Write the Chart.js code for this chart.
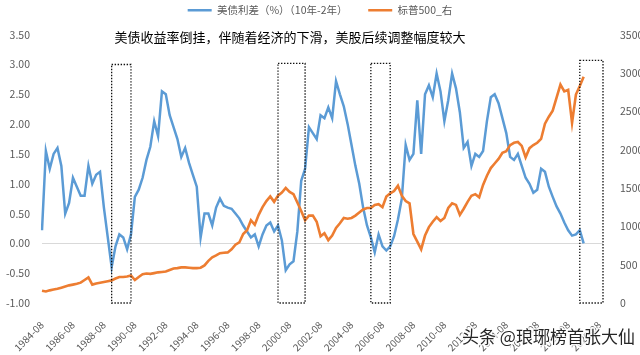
<!DOCTYPE html>
<html>
<head>
<meta charset="utf-8">
<script src="https://cdn.jsdelivr.net/npm/chart.js@4.4.1/dist/chart.umd.min.js"></script>
<style>
  html, body { margin: 0; padding: 0; background: #fff; }
  #wrap { position: relative; width: 640px; height: 355px; }
</style>
</head>
<body>
<div id="wrap"><canvas id="c" width="640" height="355"></canvas></div>
<script>
// === Kategori (kuartalan, 1984-08 s/d 2020-11) ===
const years = [];
for (let yr = 1984; yr <= 2020; yr++) years.push(yr);
const months = ['02', '05', '08', '11'];
const labels = [];
years.forEach(yr => months.forEach(m => labels.push(yr + '-' + m)));
labels.splice(0, labels.indexOf('1984-08'));

// === Data ===
const spread = [
  0.22, 1.55, 1.25, 1.5, 1.6, 1.3, 0.5, 0.68, 1.1, 0.95,
  0.8, 0.8, 1.3, 1.0, 1.15, 1.2, 0.6, 0.1, -0.4, -0.05,
  0.15, 0.1, -0.1, 0.15, 0.78, 0.9, 1.1, 1.4, 1.62, 2.05,
  1.8, 2.55, 2.5, 2.15, 1.95, 1.75, 1.45, 1.6, 1.35, 1.15,
  0.95, 0.1, 0.5, 0.5, 0.3, 0.6, 0.75, 0.63, 0.6, 0.58,
  0.5, 0.42, 0.3, 0.2, 0.1, 0.15, -0.05, 0.15, 0.3, 0.35,
  0.2, 0.3, 0.05, -0.45, -0.35, -0.3, 0.2, 1.05, 1.25, 1.95,
  1.85, 1.75, 2.15, 2.1, 2.28, 2.1, 2.72, 2.5, 2.3, 2.0,
  1.65, 1.3, 1.0, 0.6, 0.3, 0.1, -0.15, 0.15, -0.05, -0.12,
  -0.05, 0.12, 0.4, 0.75, 1.65, 1.4, 1.5, 2.4, 1.5, 2.5,
  2.65, 2.45, 2.85, 2.55, 2.05, 2.4, 2.85, 2.6, 2.2, 1.6,
  1.7, 1.3, 1.5, 1.45, 1.55, 2.05, 2.45, 2.5, 2.35, 2.1,
  1.85, 1.45, 1.4, 1.5, 1.3, 1.1, 1.0, 0.85, 0.9, 1.25,
  1.2, 0.95, 0.78, 0.62, 0.5, 0.35, 0.22, 0.13, 0.15, 0.22,
  0.0
];
const spx = [
  160, 150, 165, 175, 185, 200, 215, 230, 240, 250,
  265, 300, 335, 240, 255, 265, 275, 285, 295, 320,
  340, 340, 345, 360, 300, 340, 375, 385, 380, 390,
  400, 405, 410, 430, 450, 455, 465, 465, 460, 455,
  455, 460, 490, 550, 595, 620, 650, 655, 660, 700,
  760, 790, 900, 950, 1080, 1020, 1150, 1250, 1330, 1390,
  1320, 1400, 1440, 1500, 1450, 1420, 1310, 1200, 1080, 1140,
  1140, 1060, 870, 910, 820, 880, 980, 1040, 1110, 1100,
  1110, 1140, 1180, 1220, 1240, 1240, 1280, 1290, 1250, 1390,
  1430, 1460, 1530, 1400, 1330, 1300, 900, 800, 700, 880,
  990, 1060, 1120, 1070, 1110, 1240, 1300, 1280, 1150, 1230,
  1320, 1400, 1420, 1380, 1540, 1660, 1760, 1820, 1880, 1960,
  1980, 2060, 2090, 2100, 2050, 1900, 2020, 2060, 2090, 2140,
  2340, 2430, 2510, 2680, 2850, 2760, 2780, 2350, 2720, 2830,
  2950
];
// kotak titik-titik: [awal, akhir, batas atas]
const boxes = [
  ['1989-02', '1990-05', 3.0],
  ['1999-11', '2001-08', 3.02],
  ['2005-11', '2007-02', 3.02],
  ['2019-05', '2020-11', 3.07]
];
const note = '美债收益率倒挂，伴随着经济的下滑，美股后续调整幅度较大';
const mark = '头条 @琅琊榜首张大仙';

const FONT = '"Noto Sans CJK SC", "DejaVu Sans", sans-serif';
const GREY = '#595959';

// === Plugin: kotak, catatan, watermark ===
const decor = {
  id: 'decor',
  afterDatasetsDraw(chart) {
    const { ctx, scales: { x, y } } = chart;
    ctx.save();
    ctx.strokeStyle = '#111';
    ctx.lineWidth = 1.3;
    ctx.setLineDash([1.4, 1.6]);
    boxes.forEach(([a, b, top]) => {
      const x1 = x.getPixelForValue(labels.indexOf(a));
      const x2 = x.getPixelForValue(labels.indexOf(b));
      const y1 = y.getPixelForValue(top);
      const y2 = y.getPixelForValue(-1);
      ctx.strokeRect(x1, y1, x2 - x1, y2 - y1);
    });
    ctx.restore();
  },
  afterDraw(chart) {
    const { ctx } = chart;
    ctx.save();
    ctx.fillStyle = '#000';
    ctx.font = '13px ' + FONT;
    ctx.textAlign = 'center';
    ctx.textBaseline = 'middle';
    ctx.fillText(note, 290, 37);

    ctx.font = '17px ' + FONT;
    ctx.textAlign = 'left';
    ctx.lineWidth = 3;
    ctx.strokeStyle = 'rgba(255,255,255,0.85)';
    ctx.strokeText(mark, 462, 337);
    ctx.fillStyle = '#262626';
    ctx.fillText(mark, 462, 337);
    ctx.restore();
  }
};

const ctx = document.getElementById('c').getContext('2d');
new Chart(ctx, {
  type: 'line',
  data: {
    labels,
    datasets: [
      { label: '美债利差（%）（10年-2年）\u3000\u3000', data: spread, yAxisID: 'y',
        borderColor: '#5B9BD5', backgroundColor: '#5B9BD5', borderWidth: 2.5, order: 1 },
      { label: '标普500_右', data: spx, yAxisID: 'y1',
        borderColor: '#ED7D31', backgroundColor: '#ED7D31', borderWidth: 2.6, order: 0 }
    ]
  },
  options: {
    responsive: false,
    animation: false,
    devicePixelRatio: 1,
    layout: { padding: { top: 0, left: 0, right: 0, bottom: 0 } },
    elements: { point: { radius: 0 }, line: { tension: 0 } },
    plugins: {
      tooltip: { enabled: false },
      legend: {
        position: 'top',
        weight: 3000,
        labels: {
          usePointStyle: true,
          pointStyle: 'line',
          pointStyleWidth: 24,
          padding: 5,
          color: GREY,
          font: { family: FONT, size: 10.5 },
          sort: (a, b) => a.datasetIndex - b.datasetIndex
        }
      },
      // jarak kosong antara legenda dan area grafik
      subtitle: {
        display: true,
        text: '',
        font: { size: 1 },
        padding: { top: 0, bottom: 8 }
      }
    },
    scales: {
      x: {
        grid: { display: false },
        border: { display: false },
        ticks: {
          autoSkip: false,
          minRotation: 45,
          maxRotation: 45,
          padding: 8,
          color: GREY,
          font: { family: FONT, size: 10 },
          callback: (v, i) => (i % 8 === 0 ? labels[i] : '')
        },
        afterFit: s => { s.height = 52; }
      },
      y: {
        position: 'left',
        min: -1, max: 3.5,
        border: { display: false },
        grid: {
          drawTicks: false,
          lineWidth: 1,
          color: c => (c.tick && c.tick.value === 0 ? '#d9d9d9' : 'rgba(0,0,0,0)')
        },
        ticks: {
          stepSize: 0.5,
          padding: 12,
          color: GREY,
          font: { family: FONT, size: 10.5 },
          callback: v => v.toFixed(2)
        },
        afterFit: s => { s.width = 42; }
      },
      y1: {
        position: 'right',
        min: 0, max: 3500,
        border: { display: false },
        grid: { display: false, drawOnChartArea: false },
        ticks: {
          stepSize: 500,
          padding: 9,
          color: GREY,
          font: { family: FONT, size: 10.5 },
          callback: v => String(v)
        },
        afterFit: s => { s.width = 37; }
      }
    }
  },
  plugins: [decor]
});
</script>
</body>
</html>
